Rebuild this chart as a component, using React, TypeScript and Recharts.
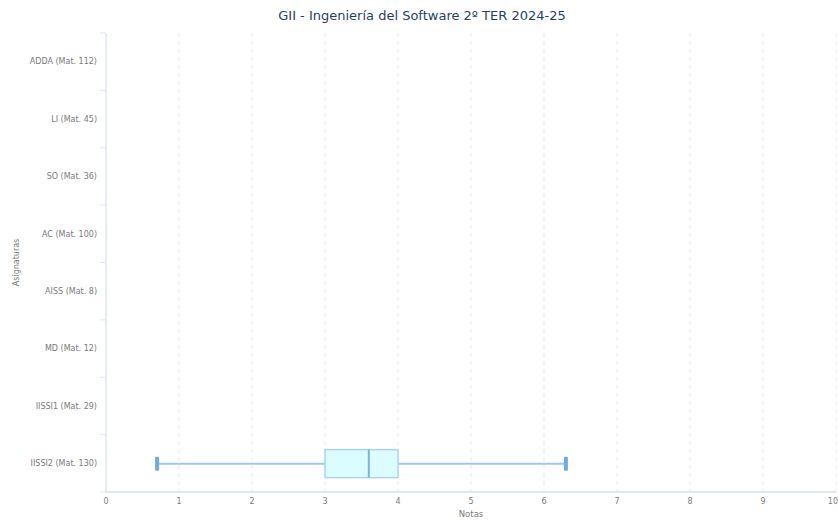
import React from 'react';
import { ComposedChart, Bar, XAxis, YAxis, CartesianGrid } from 'recharts';

const categories = [
  'ADDA (Mat. 112)',
  'LI (Mat. 45)',
  'SO (Mat. 36)',
  'AC (Mat. 100)',
  'AISS (Mat. 8)',
  'MD (Mat. 12)',
  'IISSI1 (Mat. 29)',
  'IISSI2 (Mat. 130)',
];
const minValues: (number | null)[] = [null, null, null, null, null, null, null, 0.7];
const q1Values: (number | null)[] = [null, null, null, null, null, null, null, 3.0];
const medianValues: (number | null)[] = [null, null, null, null, null, null, null, 3.6];
const q3Values: (number | null)[] = [null, null, null, null, null, null, null, 4.0];
const maxValues: (number | null)[] = [null, null, null, null, null, null, null, 6.3];
const xTicks = [0, 1, 2, 3, 4, 5, 6, 7, 8, 9, 10];

const data = categories.map((name, i) => ({
  name,
  min: minValues[i],
  q1: q1Values[i],
  median: medianValues[i],
  q3: q3Values[i],
  max: maxValues[i],
  range: minValues[i] != null && maxValues[i] != null ? [minValues[i], maxValues[i]] : null,
}));

const FONT = '"DejaVu Sans", Verdana, sans-serif';
const AXIS_COLOR = '#dfe7f1';
const TICK_COLOR = '#7a7a7a';

const BoxShape = (props: any) => {
  const { x, y, width, height, payload } = props;
  if (!payload || payload.min == null || payload.max == null || !width) return null;
  const span = payload.max - payload.min;
  const px = (v: number) => x + ((v - payload.min) / span) * width;
  const cy = y + height / 2;
  const capH = height / 2;
  const xMin = px(payload.min);
  const xQ1 = px(payload.q1);
  const xMed = px(payload.median);
  const xQ3 = px(payload.q3);
  const xMax = px(payload.max);
  return (
    <g>
      <line x1={xMin} x2={xQ1} y1={cy} y2={cy} stroke="#9ec9f7" strokeWidth={2} />
      <line x1={xQ3} x2={xMax} y1={cy} y2={cy} stroke="#9ec9f7" strokeWidth={2} />
      <rect x={xMin - 2} y={cy - capH / 2} width={4} height={capH} fill="#6faaf0" rx={1} />
      <rect x={xMax - 2} y={cy - capH / 2} width={4} height={capH} fill="#6faaf0" rx={1} />
      <rect x={xQ1} y={y} width={xQ3 - xQ1} height={height} fill="#dcfdff" stroke="#a9d3f8" strokeWidth={1.5} />
      <line x1={xMed} x2={xMed} y1={y} y2={y + height} stroke="#79b0ec" strokeWidth={2} />
    </g>
  );
};

const YTick = (props: any) => {
  const { x, y, payload, index } = props;
  const half = payload && payload.offset ? payload.offset : 28.7;
  const lx1 = x + 3;
  const lx2 = x + 9;
  return (
    <g>
      <line x1={lx1} x2={lx2} y1={y - half} y2={y - half} stroke={AXIS_COLOR} strokeWidth={1} />
      {index === categories.length - 1 && (
        <line x1={lx1} x2={lx2} y1={y + half} y2={y + half} stroke={AXIS_COLOR} strokeWidth={1} />
      )}
      <text x={x} y={y} dy="0.35em" textAnchor="end" fontSize={8} fill={TICK_COLOR} fontFamily={FONT}>
        {payload.value}
      </text>
    </g>
  );
};

const XTick = (props: any) => {
  const { x, y, payload, index } = props;
  const isLast = index === xTicks.length - 1;
  return (
    <text
      x={isLast ? 838 : x}
      y={y}
      dy="0.71em"
      textAnchor={isLast ? 'end' : 'middle'}
      fontSize={8}
      fill={TICK_COLOR}
      fontFamily={FONT}
    >
      {payload.value}
    </text>
  );
};

export default function App() {
  return (
    <div style={{ position: 'absolute', left: 0, top: 0, width: 838, height: 520, background: '#fff', fontFamily: FONT }}>
      <div
        style={{
          position: 'absolute',
          left: 0,
          top: 7,
          width: 844,
          textAlign: 'center',
          fontSize: 13,
          color: '#2a3f5f',
          fontFamily: FONT,
          lineHeight: '18px',
        }}
      >
        GII - Ingeniería del Software 2º TER 2024-25
      </div>
      <ComposedChart
        width={838}
        height={520}
        data={data}
        layout="vertical"
        margin={{ top: 33, right: 2, bottom: 0, left: 0 }}
        style={{ position: 'absolute', left: 0, top: 0 }}
      >
        <CartesianGrid horizontal={false} vertical strokeDasharray="4 4" stroke="#e9e9e9" />
        <XAxis
          type="number"
          domain={[0, 10]}
          ticks={xTicks}
          interval={0}
          tickLine={false}
          axisLine={{ stroke: AXIS_COLOR, strokeWidth: 2 }}
          height={28}
          tick={<XTick />}
          tickMargin={0}
          label={{ value: 'Notas', position: 'insideBottom', offset: 3, fontSize: 8.5, fill: TICK_COLOR, fontFamily: FONT }}
        />
        <YAxis
          type="category"
          dataKey="name"
          width={106}
          tickLine={false}
          tickMargin={3}
          interval={0}
          axisLine={{ stroke: AXIS_COLOR, strokeWidth: 1.5 }}
          tick={<YTick />}
          label={{
            value: 'Asignaturas',
            angle: -90,
            position: 'insideLeft',
            offset: 16,
            fontSize: 8,
            fill: TICK_COLOR,
            fontFamily: FONT,
            style: { textAnchor: 'middle' },
          }}
        />
        <Bar dataKey="range" barSize={28} shape={<BoxShape />} isAnimationActive={false} />
      </ComposedChart>
    </div>
  );
}
